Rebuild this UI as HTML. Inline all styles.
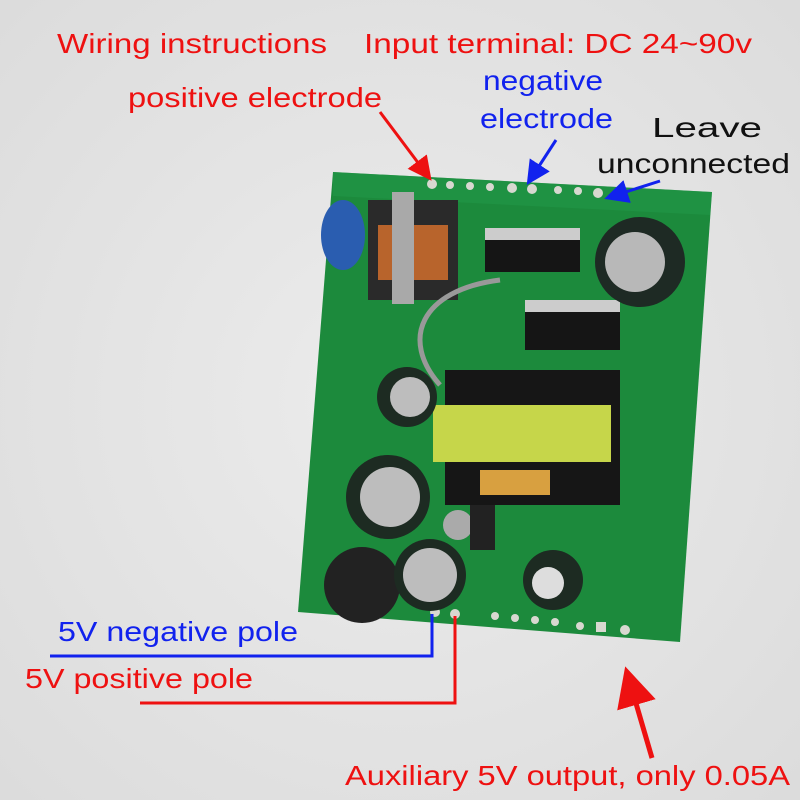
<!DOCTYPE html>
<html><head><style>
html,body{margin:0;padding:0;width:800px;height:800px;overflow:hidden;background:#e6e6e6}
svg{display:block}
text{font-family:"Liberation Sans",sans-serif;font-size:28px}
</style></head><body>
<svg width="800" height="800" viewBox="0 0 800 800">
<defs>
<radialGradient id="bg" cx="50%" cy="50%" r="70%"><stop offset="0" stop-color="#ececec"/><stop offset="1" stop-color="#dcdcdc"/></radialGradient>
<marker id="ar" markerWidth="8" markerHeight="8" refX="6" refY="4" orient="auto"><path d="M0,0 L8,4 L0,8 z" fill="#e11"/></marker>
<marker id="ab" markerWidth="8" markerHeight="8" refX="6" refY="4" orient="auto"><path d="M0,0 L8,4 L0,8 z" fill="#12e"/></marker>
</defs>
<rect width="800" height="800" fill="url(#bg)"/>
<polygon points="333,172 712,192 680,642 298,612" fill="#1c8a3c"/>
<polygon points="333,172 712,192 710,215 333,196" fill="#22994a" opacity=".5"/>
<g fill="#d8d8d0"><circle cx="432" cy="184" r="5"/><circle cx="450" cy="185" r="4"/><circle cx="470" cy="186" r="4"/><circle cx="490" cy="187" r="4"/><circle cx="512" cy="188" r="5"/><circle cx="532" cy="189" r="5"/><circle cx="558" cy="190" r="4"/><circle cx="578" cy="191" r="4"/><circle cx="598" cy="193" r="5"/><circle cx="618" cy="194" r="4"/>
<circle cx="435" cy="612" r="5"/><circle cx="455" cy="614" r="5"/><circle cx="495" cy="616" r="4"/><circle cx="515" cy="618" r="4"/><circle cx="535" cy="620" r="4"/><circle cx="555" cy="622" r="4"/><circle cx="580" cy="626" r="4"/><rect x="596" y="622" width="10" height="10"/><circle cx="625" cy="630" r="5"/></g>
<ellipse cx="343" cy="235" rx="22" ry="35" fill="#2a5db0"/>
<rect x="368" y="200" width="90" height="100" fill="#2a2a2a"/>
<rect x="378" y="225" width="70" height="55" fill="#b8642c"/>
<rect x="392" y="192" width="22" height="112" fill="#a9a9a9"/>
<rect x="485" y="228" width="95" height="44" fill="#151515"/><rect x="485" y="228" width="95" height="12" fill="#ccc"/>
<rect x="525" y="300" width="95" height="50" fill="#151515"/><rect x="525" y="300" width="95" height="12" fill="#ccc"/>
<circle cx="640" cy="262" r="45" fill="#1e2a24"/><circle cx="635" cy="262" r="30" fill="#b8b8b8"/>
<path d="M500,280 C420,290 400,340 440,385" stroke="#999" stroke-width="5" fill="none"/>
<rect x="445" y="370" width="175" height="135" fill="#161616"/>
<rect x="433" y="405" width="178" height="57" fill="#c6d64a"/>
<rect x="480" y="470" width="70" height="25" fill="#d8a040"/>
<circle cx="407" cy="397" r="30" fill="#1d2b22"/><circle cx="410" cy="397" r="20" fill="#bdbdbd"/>
<circle cx="388" cy="497" r="42" fill="#1d2b22"/><circle cx="390" cy="497" r="30" fill="#bdbdbd"/>
<circle cx="458" cy="525" r="15" fill="#aaa"/><rect x="470" y="505" width="25" height="45" fill="#222"/>
<circle cx="362" cy="585" r="38" fill="#222"/>
<circle cx="430" cy="575" r="36" fill="#1d2b22"/><circle cx="430" cy="575" r="27" fill="#bdbdbd"/>
<circle cx="553" cy="580" r="30" fill="#1d2b22"/><circle cx="548" cy="583" r="16" fill="#ddd"/>
<g fill="#e11"><text x="57" y="53" textLength="270" lengthAdjust="spacingAndGlyphs">Wiring instructions</text>
<text x="364" y="53" textLength="388" lengthAdjust="spacingAndGlyphs">Input terminal: DC 24~90v</text>
<text x="128" y="107" textLength="254" lengthAdjust="spacingAndGlyphs">positive electrode</text>
<text x="25" y="688" textLength="228" lengthAdjust="spacingAndGlyphs">5V positive pole</text>
<text x="345" y="785" textLength="445" lengthAdjust="spacingAndGlyphs">Auxiliary 5V output, only 0.05A</text></g>
<g fill="#12e"><text x="483" y="90" textLength="120" lengthAdjust="spacingAndGlyphs">negative</text>
<text x="480" y="128" textLength="133" lengthAdjust="spacingAndGlyphs">electrode</text>
<text x="58" y="641" textLength="240" lengthAdjust="spacingAndGlyphs">5V negative pole</text></g>
<g fill="#111"><text x="652" y="137" textLength="110" lengthAdjust="spacingAndGlyphs">Leave</text>
<text x="597" y="173" textLength="193" lengthAdjust="spacingAndGlyphs">unconnected</text></g>
<g stroke-width="3" fill="none">
<line x1="380" y1="112" x2="428" y2="176" stroke="#e11" marker-end="url(#ar)"/>
<line x1="556" y1="140" x2="530" y2="180" stroke="#12e" marker-end="url(#ab)"/>
<line x1="660" y1="181" x2="610" y2="197" stroke="#12e" marker-end="url(#ab)"/>
<polyline points="50,656 432,656 432,614" stroke="#12e"/>
<polyline points="140,703 455,703 455,616" stroke="#e11"/>
<line x1="652" y1="758" x2="628" y2="676" stroke="#e11" stroke-width="5" marker-end="url(#ar)"/>
</g>
</svg>
</body></html>
